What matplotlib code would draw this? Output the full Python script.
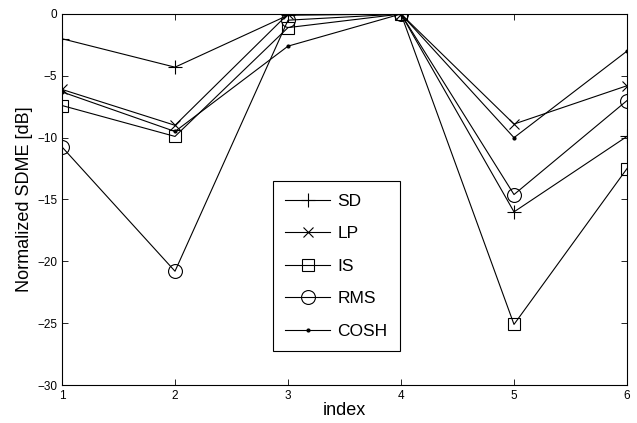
import matplotlib.pyplot as plt
plt.switch_backend('agg')
import numpy as np

plt.rcParams['font.family'] = ['Liberation Sans', 'DejaVu Sans']
plt.rcParams['axes.unicode_minus'] = True

index = [1, 2, 3, 4, 5, 6]
sd = [-2.0, -4.3, -0.1, 0.0, -16.0, -9.9]
lp = [-6.1, -9.0, 0.0, 0.0, -8.9, -5.8]
is_ = [-7.4, -9.9, -1.1, 0.0, -25.1, -12.5]
rms = [-10.75, -20.8, -0.5, 0.0, -14.6, -7.0]
cosh = [-6.3, -9.5, -2.6, 0.0, -10.0, -3.0]

fig = plt.figure(figsize=(6.37, 4.23), dpi=100)
ax = fig.add_axes([62/637, 1-385/423, 565/637, 371/423])

lw = 0.8
ax.plot(index, sd, 'k-', marker='+', ms=10, mew=0.8, lw=lw, label='SD')
ax.plot(index, lp, 'k-', marker='x', ms=7, mew=0.8, lw=lw, label='LP')
ax.plot(index, is_, 'k-', marker='s', ms=8, mew=0.8, mfc='none', lw=lw, label='IS')
ax.plot(index, rms, 'k-', marker='o', ms=10, mew=0.8, mfc='none', lw=lw, label='RMS')
ax.plot(index, cosh, 'k-', marker='.', ms=4, lw=lw, label='COSH')

ax.set_xlim(1, 6)
ax.set_ylim(-30, 0)
ax.set_xticks(index)
ax.set_yticks([0, -5, -10, -15, -20, -25, -30])
ax.tick_params(direction='in', top=True, right=True, labelsize=8.5, length=4, width=0.6)
for s in ax.spines.values():
    s.set_linewidth(0.8)

ax.set_xlabel('index', fontsize=13, labelpad=0)
ax.set_ylabel('Normalized SDME [dB]', fontsize=13, labelpad=3)

leg = ax.legend(loc='upper left', bbox_to_anchor=(0.373, 0.55), fontsize=12.5,
                fancybox=False, edgecolor='k', framealpha=1, handlelength=2.6,
                labelspacing=1.0, borderpad=0.72, handletextpad=0.4, borderaxespad=0)
leg.get_frame().set_linewidth(0.8)

plt.savefig('out.png', dpi=100)
